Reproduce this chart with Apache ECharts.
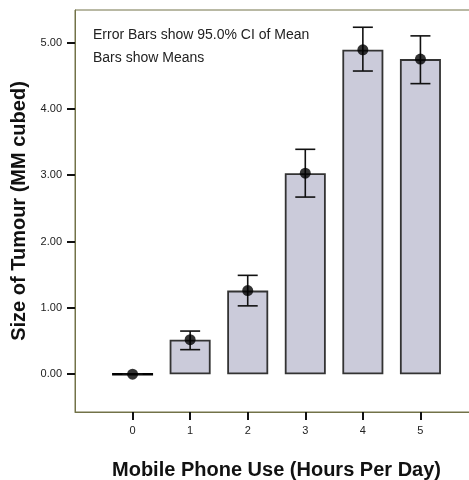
<!DOCTYPE html>
<html>
<head>
<meta charset="utf-8">
<script src="https://cdn.jsdelivr.net/npm/echarts@6/dist/echarts.min.js"></script>
<style>html,body{margin:0;padding:0;background:#fff;}#c{width:469px;height:480px;}</style>
</head>
<body>
<div id="c"></div>
<script>
// Data
var categories = [0, 1, 2, 3, 4, 5];
var means = [0.00, 0.52, 1.26, 3.03, 4.89, 4.75];
var ciLower = [0.00, 0.37, 1.03, 2.67, 4.57, 4.38];
var ciUpper = [0.00, 0.65, 1.49, 3.39, 5.23, 5.10];
var yTicks = [0, 1, 2, 3, 4, 5];
var xTicks = [0, 1, 2, 3, 4, 5];
var xTitle = 'Mobile Phone Use (Hours Per Day)';
var yTitle = 'Size of Tumour (MM cubed)';
var note1 = 'Error Bars show 95.0% CI of Mean';
var note2 = 'Bars show Means';

var barData = categories.map(function (c, i) {
  var item = { value: [c, means[i]] };
  if (means[i] === 0) { item.itemStyle = { borderColor: '#000', borderWidth: 2.6 }; }
  return item;
});
var dotData = categories.map(function (c, i) { return [c, means[i]]; });
var errData = categories.map(function (c, i) { return [c, ciLower[i], ciUpper[i]]; });

var axisColor = '#727248';
var font = '"Liberation Sans", Arial, sans-serif';

var chart = echarts.init(document.getElementById('c'), null, { renderer: 'canvas' });
chart.setOption({
  backgroundColor: '#ffffff',
  animation: false,
  grid: { left: 75, width: 403, top: 10, bottom: 68, outerBoundsMode: 'none', containLabel: false,
    show: true, borderColor: axisColor, borderWidth: 1, backgroundColor: 'transparent' },
  xAxis: {
    type: 'value', min: -1, max: 6, interval: 1,
    name: xTitle, nameLocation: 'middle', nameGap: 48,
    nameTextStyle: { fontFamily: font, fontWeight: 'bold', fontSize: 20, color: '#111' },
    axisLine: { show: true, onZero: false, lineStyle: { color: axisColor, width: 1 } },
    axisTick: { show: true, length: 8, customValues: xTicks, lineStyle: { color: '#111', width: 2 } },
    axisLabel: { customValues: xTicks, margin: 13, fontFamily: font, fontSize: 11, color: '#222' },
    splitLine: { show: false }
  },
  yAxis: {
    type: 'value', min: -0.57, max: 5.49,
    name: yTitle, nameLocation: 'middle', nameGap: 37, nameRotate: 90,
    nameTextStyle: { fontFamily: font, fontWeight: 'bold', fontSize: 20, color: '#111' },
    axisLine: { show: true, onZero: false, lineStyle: { color: axisColor, width: 1 } },
    axisTick: { show: true, length: 8, customValues: yTicks, lineStyle: { color: '#111', width: 2 } },
    axisLabel: { customValues: yTicks, margin: 13, fontFamily: font, fontSize: 11, color: '#222',
      formatter: function (v) { return Number(v).toFixed(2); } },
    splitLine: { show: false }
  },
  graphic: [
    { type: 'text', left: 93, top: 28, style: { text: note1, fontFamily: font, fontSize: 14, fill: '#222' } },
    { type: 'text', left: 93, top: 51, style: { text: note2, fontFamily: font, fontSize: 14, fill: '#222' } }
  ],
  series: [
    {
      type: 'bar', data: barData, barWidth: 41,
      itemStyle: { color: '#cbcbda', borderColor: '#333', borderWidth: 1.8 },
      emphasis: { disabled: true }
    },
    {
      type: 'custom', data: errData, z: 5,
      renderItem: function (params, api) {
        var x = api.value(0);
        var lo = api.coord([x, api.value(1)]);
        var hi = api.coord([x, api.value(2)]);
        var hw = 10;
        var style = { stroke: '#111', lineWidth: 1.6, fill: null };
        return {
          type: 'group',
          children: [
            { type: 'line', shape: { x1: lo[0], y1: lo[1], x2: hi[0], y2: hi[1] }, style: style },
            { type: 'line', shape: { x1: hi[0] - hw, y1: hi[1], x2: hi[0] + hw, y2: hi[1] }, style: style },
            { type: 'line', shape: { x1: lo[0] - hw, y1: lo[1], x2: lo[0] + hw, y2: lo[1] }, style: style }
          ]
        };
      }
    },
    {
      type: 'scatter', data: dotData, symbol: 'circle', symbolSize: 11, z: 6,
      itemStyle: { color: '#000' }
    }
  ]
});
</script>
</body>
</html>
